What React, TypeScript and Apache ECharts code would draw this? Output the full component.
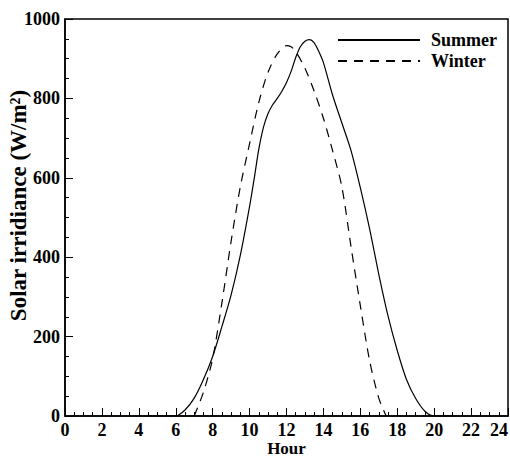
import React, { useEffect, useRef } from "react";
import * as echarts from "echarts";

const summerHours = [4.5, 5, 5.5, 6, 6.5, 7, 7.5, 8, 8.5, 9, 9.5, 10, 10.25, 10.5, 10.75, 11, 11.25, 11.5, 11.75, 12, 12.25, 12.5, 12.75, 13, 13.25, 13.5, 13.75, 14, 14.5, 15, 15.5, 16, 16.5, 17, 17.5, 18, 18.5, 19, 19.5, 20, 20.5, 21];
const summerValues = [0, 0, 0, 0, 15, 45, 92, 150, 225, 305, 405, 528, 598, 672, 727, 762, 784, 800, 818, 840, 868, 903, 930, 944, 948, 940, 918, 890, 808, 738, 668, 575, 472, 357, 252, 165, 92, 44, 12, 0, 0, 0];

const winterHours = [7, 7.5, 8, 8.5, 9, 9.5, 10, 10.5, 11, 11.5, 12, 12.25, 12.5, 13, 13.5, 14, 14.5, 15, 15.5, 16, 16.5, 17, 17.4];
const winterValues = [0, 60, 145, 285, 440, 578, 686, 790, 866, 912, 933, 930, 918, 876, 818, 750, 668, 577, 425, 278, 140, 45, 0];

const xTicks = [0, 24, 2];
const yTicks = [0, 1000, 200];

const FONT = "'Liberation Serif', 'Times New Roman', serif";

export default function App() {
  const ref = useRef<HTMLDivElement>(null);
  useEffect(() => {
    if (!ref.current) return;
    const chart = echarts.init(ref.current, null, { renderer: "svg" });
    const axisCommon = {
      axisLine: { show: true, onZero: false, lineStyle: { color: "#000", width: 1.5 } },
      axisTick: { show: true, inside: true, length: 8, lineStyle: { color: "#000", width: 1 } },
      minorTick: { show: true, splitNumber: 4, length: 4, lineStyle: { color: "#000", width: 1 } },
      splitLine: { show: false },
      axisLabel: { color: "#000", fontFamily: FONT, fontWeight: "bold", fontSize: 18, formatter: (v: number) => String(v) },
      nameTextStyle: { color: "#000", fontFamily: FONT, fontWeight: "bold", fontSize: 18 },
      nameMoveOverlap: false,
    };
    chart.setOption({
      animation: false,
      backgroundColor: "#fff",
      grid: {
        left: 65, right: 2, top: 19, bottom: 41, show: true,
        containLabel: false, outerBoundsMode: "none",
        borderColor: "#000", borderWidth: 1.5, backgroundColor: "transparent",
      },
      legend: {
        orient: "vertical",
        right: 8,
        top: 26,
        itemWidth: 82,
        itemHeight: 12,
        itemGap: 3,
        itemStyle: { opacity: 0 },
        textStyle: { color: "#000", fontFamily: FONT, fontWeight: "bold", fontSize: 18, padding: [0, 0, 0, 6] },
        data: ["Summer", "Winter"],
      },
      xAxis: {
        ...axisCommon,
        type: "value",
        min: xTicks[0],
        max: xTicks[1],
        interval: xTicks[2],
        name: "Hour",
        nameLocation: "middle",
        nameGap: 24,
        nameTextStyle: { ...axisCommon.nameTextStyle, fontSize: 17 },
        axisLabel: { ...axisCommon.axisLabel, margin: 5, alignMaxLabel: "right" },
      },
      yAxis: {
        ...axisCommon,
        type: "value",
        min: yTicks[0],
        max: yTicks[1],
        interval: yTicks[2],
        name: "Solar irridiance (W/m\u00B2)",
        nameLocation: "middle",
        nameGap: 35,
        nameTextStyle: { ...axisCommon.nameTextStyle, fontSize: 23, padding: [0, 0, 0, 24] },
        axisLabel: { ...axisCommon.axisLabel, margin: 5 },
      },
      series: [
        {
          name: "Summer",
          type: "line",
          smooth: 0.3,
          showSymbol: false,
          symbol: "none",
          lineStyle: { color: "#000", width: 1.2, type: "solid" },
          itemStyle: { color: "#000" },
          data: summerHours.map((h, i) => [h, summerValues[i]]),
        },
        {
          name: "Winter",
          type: "line",
          smooth: 0.3,
          showSymbol: false,
          symbol: "none",
          lineStyle: { color: "#000", width: 1.2, type: [9, 7] },
          itemStyle: { color: "#000" },
          data: winterHours.map((h, i) => [h, winterValues[i]]),
        },
      ],
    });
    return () => chart.dispose();
  }, []);
  return <div ref={ref} style={{ width: 510, height: 457, position: "absolute", left: 0, top: 0 }} />;
}
